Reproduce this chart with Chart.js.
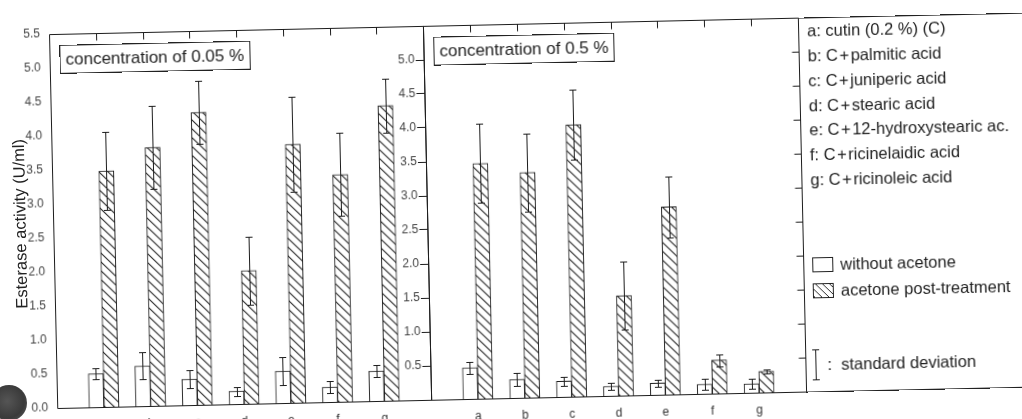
<!DOCTYPE html>
<html><head><meta charset="utf-8">
<script src="https://cdn.jsdelivr.net/npm/chart.js@4"></script>
<style>
html,body{margin:0;padding:0;background:#fff;overflow:hidden;width:1022px;height:419px;}
#fig{position:absolute;left:0;top:0;width:1080px;height:440px;transform:rotate(-1.26deg);transform-origin:511px 210px;font-family:"Liberation Sans",Arial,sans-serif;color:#1e1e1e;}
#leftWrap{position:absolute;left:0;top:0;width:430px;height:440px;}
#rightWrap{position:absolute;left:380px;top:0;width:430px;height:440px;}
.note{position:absolute;top:35px;height:27px;border:1px solid #222;font-size:17px;line-height:27px;padding:0 5px;white-space:nowrap;background:#fff;}
#ytitle{position:absolute;left:20px;top:213px;transform:translate(-50%,-50%) rotate(-90deg);font-size:16.5px;white-space:nowrap;color:#222;}
#legend{position:absolute;left:802px;top:24px;width:270px;height:373px;border-top:1px solid #222;border-bottom:1px solid #222;}
#legend .row{position:absolute;left:9px;font-size:16.5px;line-height:25px;height:25px;white-space:nowrap;}
#legend .plus{margin:0 1.5px;}
.sw{position:absolute;left:9px;width:19px;height:13px;border:1px solid #222;}
.sertext{position:absolute;left:37px;font-size:16.5px;white-space:nowrap;line-height:20px;}
#hole{position:absolute;left:-9px;top:385px;width:36px;height:36px;border-radius:50%;background:radial-gradient(circle at 45% 45%,#555,#3a3a3a 60%,#666);}
</style></head>
<body>
<div id="fig">
  <div id="leftWrap"><canvas id="cLeft" width="430" height="440" style="width:430px;height:440px"></canvas></div>
  <div id="rightWrap"><canvas id="cRight" width="430" height="440" style="width:430px;height:440px"></canvas></div>
  <div id="ytitle"></div>
  <div class="note" id="note0" style="left:63px"></div>
  <div class="note" id="note1" style="left:437px"></div>
  <div id="legend"></div>
</div>
<div id="hole"></div>
<script>
const categories = ['a','b','c','d','e','f','g'];
const seriesNames = ['without acetone','acetone post-treatment'];
const legendEntries = ['a: cutin (0.2 %) (C)','b: C+palmitic acid','c: C+juniperic acid','d: C+stearic acid','e: C+12-hydroxystearic ac.','f: C+ricinelaidic acid','g: C+ricinoleic acid'];
const sdLabel = 'standard deviation';
const panelTitles = ['concentration of 0.05 %','concentration of 0.5 %'];
const yTitle = 'Esterase activity (U/ml)';

const low_without     = [0.49, 0.59, 0.38, 0.19, 0.47, 0.22, 0.44];
const low_without_sd  = [0.08, 0.20, 0.13, 0.065, 0.20, 0.09, 0.09];
const low_acetone     = [3.47, 3.80, 4.30, 1.96, 3.80, 3.34, 4.34];
const low_acetone_sd  = [0.58, 0.61, 0.46, 0.50, 0.70, 0.61, 0.40];

const high_without    = [0.46, 0.27, 0.23, 0.14, 0.17, 0.14, 0.13];
const high_without_sd = [0.09, 0.10, 0.07, 0.05, 0.05, 0.08, 0.075];
const high_acetone    = [3.46, 3.31, 4.00, 1.47, 2.76, 0.49, 0.31];
const high_acetone_sd = [0.58, 0.57, 0.52, 0.50, 0.45, 0.09, 0.03];

const yTicksLeft  = [0, 0.5, 1, 1.5, 2, 2.5, 3, 3.5, 4, 4.5, 5, 5.5];
const yTicksRight = [0.5, 1, 1.5, 2, 2.5, 3, 3.5, 4, 4.5, 5];

const INK = '#1c1c1c';

function makeHatch(){
  const c = document.createElement('canvas'); c.width = 9; c.height = 9;
  const g = c.getContext('2d');
  g.fillStyle = '#fff'; g.fillRect(0,0,9,9);
  g.strokeStyle = '#262626'; g.lineWidth = 1.1;
  g.beginPath();
  g.moveTo(0,0); g.lineTo(9,9);
  g.moveTo(-1,8); g.lineTo(1,10);
  g.moveTo(8,-1); g.lineTo(10,1);
  g.stroke();
  return g.createPattern(c,'repeat');
}

const framePlugin = {
  id: 'frame',
  afterDraw(chart, args, opts){
    const {ctx, chartArea: a, scales} = chart;
    const L = Math.round(a.left)+0.5, R = Math.round(a.right)+0.5, T = Math.round(a.top)+0.5, B = Math.round(a.bottom)+0.5;
    ctx.save();
    ctx.strokeStyle = INK; ctx.lineWidth = 1;
    ctx.beginPath();
    ctx.moveTo(L,T); ctx.lineTo(R,T); ctx.lineTo(R,B); ctx.lineTo(L,B); ctx.closePath();
    (opts.topTicks||[]).forEach(v => {
      const x = Math.round(scales.x.getPixelForValue(v))+0.5;
      ctx.moveTo(x,T); ctx.lineTo(x,T+7);
    });
    (opts.rightTicks||[]).forEach(v => {
      const y = Math.round(scales.y.getPixelForValue(v))+0.5;
      ctx.moveTo(R,y); ctx.lineTo(R-7,y);
    });
    ctx.stroke();
    ctx.restore();
  }
};

const errPlugin = {
  id: 'errbars',
  afterDatasetsDraw(chart){
    const {ctx, scales} = chart;
    ctx.save(); ctx.strokeStyle = INK; ctx.lineWidth = 1;
    ctx.beginPath();
    chart.data.datasets.forEach((ds, di) => {
      const meta = chart.getDatasetMeta(di);
      meta.data.forEach((el, i) => {
        const v = ds.data[i].y, sd = ds.sd[i];
        const x = Math.round(el.x)+0.5;
        const y1 = Math.round(scales.y.getPixelForValue(v+sd))+0.5;
        const y2 = Math.round(scales.y.getPixelForValue(v-sd))+0.5;
        ctx.moveTo(x,y1); ctx.lineTo(x,y2);
        ctx.moveTo(x-3.5,y1); ctx.lineTo(x+3.5,y1);
        ctx.moveTo(x-3.5,y2); ctx.lineTo(x+3.5,y2);
      });
    });
    ctx.stroke(); ctx.restore();
  }
};

const hatch = makeHatch();
const catValues = categories.map((c,i) => i+1);

function build(canvasId, without, withoutSd, acetone, acetoneSd, left){
  const ds = [
    {label: seriesNames[0], data: without.map((v,i)=>({x:catValues[i], y:v})), sd: withoutSd,
     backgroundColor:'#fff', borderColor: INK, borderWidth: 1, barThickness: 15},
    {label: seriesNames[1], data: acetone.map((v,i)=>({x:catValues[i], y:v})), sd: acetoneSd,
     backgroundColor: hatch, borderColor: INK, borderWidth: 1, barThickness: 15}
  ];
  const yTicks = left ? yTicksLeft : yTicksRight;
  return new Chart(document.getElementById(canvasId), {
    type: 'bar',
    data: { datasets: ds },
    plugins: [framePlugin, errPlugin],
    options: {
      responsive: false, animation: false, devicePixelRatio: 1,
      layout: { padding: { top: 24, right: left ? 3 : 8, left: 0, bottom: 0 } },
      plugins: {
        legend: { display: false }, tooltip: { enabled: false },
        frame: { topTicks: catValues, rightTicks: left ? [] : yTicksRight }
      },
      scales: {
        x: {
          type: 'linear', min: 0, max: 8, position: 'bottom', offset: false,
          afterBuildTicks: ax => { ax.ticks = catValues.map(v => ({value: v})); },
          ticks: { callback: v => categories[v-1] || '', color: '#333', padding: 10, autoSkip: false, maxRotation: 0,
                   font: { family: '"Liberation Sans", Arial, sans-serif', size: 12 } },
          grid: { display: false, drawTicks: false, offset: false }, border: { display: false },
          afterFit: ax => { ax.height = 42; }
        },
        y: {
          min: 0, max: 5.5,
          afterBuildTicks: ax => { ax.ticks = yTicks.map(v => ({value: v})); },
          ticks: { callback: v => Number(v).toFixed(1), color: '#444', padding: left ? 9 : 1, autoSkip: false,
                   font: { family: '"Liberation Sans", Arial, sans-serif', size: 12 } },
          grid: left ? { display: false, drawTicks: false }
                     : { display: true, drawOnChartArea: false, drawTicks: true, tickLength: 8, color: INK, lineWidth: 1 },
          border: { display: false },
          afterFit: ax => { ax.width = left ? 53 : 47; }
        }
      }
    }
  });
}

build('cLeft', low_without, low_without_sd, low_acetone, low_acetone_sd, true);
build('cRight', high_without, high_without_sd, high_acetone, high_acetone_sd, false);

document.getElementById('ytitle').textContent = yTitle;
document.getElementById('note0').textContent = panelTitles[0];
document.getElementById('note1').textContent = panelTitles[1];

const lg = document.getElementById('legend');
legendEntries.forEach((t, i) => {
  const d = document.createElement('div'); d.className = 'row';
  d.style.top = (i*24.85) + 'px';
  t.split('+').forEach((part, k) => {
    if (k > 0) { const p = document.createElement('span'); p.className = 'plus'; p.textContent = '+'; d.appendChild(p); }
    d.appendChild(document.createTextNode(part));
  });
  lg.appendChild(d);
});
const serTops = [246, 272];
seriesNames.forEach((n, i) => {
  const sw = document.createElement('div'); sw.className = 'sw';
  sw.style.top = (serTops[i] - 7) + 'px';
  sw.style.background = i === 0 ? '#fff' : 'repeating-linear-gradient(45deg,#2a2a2a 0 1px,#fff 1px 5px)';
  lg.appendChild(sw);
  const tx = document.createElement('div'); tx.className = 'sertext';
  tx.style.top = (serTops[i] - 10) + 'px'; tx.textContent = n; lg.appendChild(tx);
});
const sdTop = 331, sdBot = 361;
const bar = document.createElement('div');
bar.style.cssText = `position:absolute;left:10px;top:${sdTop}px;width:1px;height:${sdBot-sdTop}px;background:${INK}`;
lg.appendChild(bar);
[sdTop, sdBot].forEach(y => {
  const cp = document.createElement('div');
  cp.style.cssText = `position:absolute;left:7px;top:${y}px;width:7px;height:1px;background:${INK}`;
  lg.appendChild(cp);
});
const sdt = document.createElement('div'); sdt.className = 'sertext';
sdt.style.left = '22px'; sdt.style.top = (346 - 10) + 'px';
sdt.textContent = ':  ' + sdLabel; sdt.style.whiteSpace = 'pre';
lg.appendChild(sdt);
</script>
</body></html>
